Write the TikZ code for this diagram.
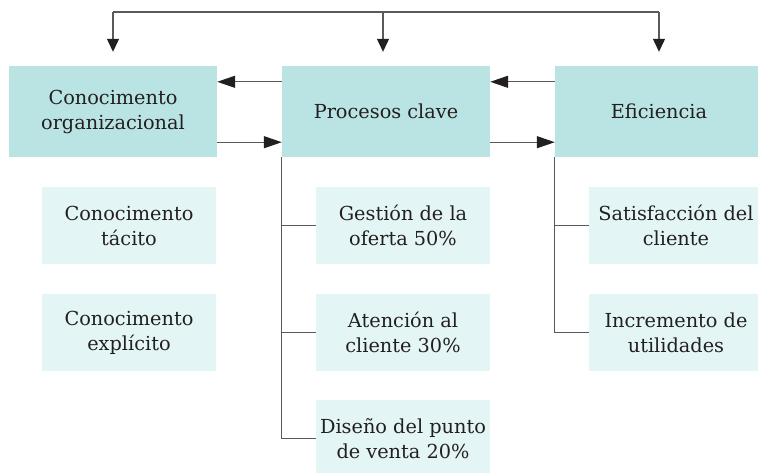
\documentclass[tikz,border=0pt]{standalone}
\usepackage{fontspec}
\setmainfont{DejaVu Serif}
\usetikzlibrary{arrows.meta}
\definecolor{boxdark}{HTML}{B9E4E3}
\definecolor{boxlight}{HTML}{E4F5F5}
\definecolor{txt}{HTML}{231F20}
\definecolor{ln}{HTML}{58595B}
\begin{document}
\begin{tikzpicture}[x=1pt,y=-1pt,
  main/.style={fill=boxdark,minimum width=208pt,minimum height=91pt,inner sep=0pt,align=center,text=txt,font=\fontsize{19.3}{25}\selectfont},
  sub/.style={fill=boxlight,minimum width=174pt,minimum height=77pt,inner sep=0pt,align=center,text=txt,font=\fontsize{19.3}{25}\selectfont},
  varr/.style={draw=ln,line width=1.2pt,-{Triangle[length=13pt,width=12pt,fill=txt,color=txt]}},
  harr/.style={draw=ln,line width=1.2pt,-{Triangle[length=18pt,width=12pt,fill=txt,color=txt]}},
  conn/.style={draw=ln,line width=1.2pt}]
\clip (0,0) rectangle (758,472);
\fill[white] (0,0) rectangle (758,472);
\node[main] (b1) at (113,111.5) {Conocimento\\organizacional};
\node[main] (b2) at (386,111.5) {Procesos clave};
\node[main] (b3) at (659,111.5) {Eficiencia};
\node[sub] (k1) at (129,225.5) {Conocimento\\tácito};
\node[sub] (k2) at (129,332.5) {Conocimento\\explícito};
\node[sub] (g1) at (403,225.5) {Gestión de la\\oferta 50\%};
\node[sub] (g2) at (403,332.5) {Atención al\\cliente 30\%};
\node[sub] (g3) at (403,438.5) {Diseño del punto\\de venta 20\%};
\node[sub] (s1) at (676,225.5) {Satisfacción del\\cliente};
\node[sub] (s2) at (676,332.5) {Incremento de\\utilidades};
\coordinate (t1) at (113,12);
\coordinate (t2) at (383,12);
\coordinate (t3) at (659,12);
\draw[conn] (t1) -- (t3);
\draw[varr,shorten >=14pt] (t1) -- (b1.north);
\draw[varr,shorten >=14pt] (t2) -- (t2 |- b2.north);
\draw[varr,shorten >=14pt] (t3) -- (b3.north);
\draw[harr] ([yshift=-16pt]b2.north west) -- ([yshift=-16pt]b1.north east);
\draw[harr] ([yshift=15pt]b1.south east) -- ([yshift=15pt]b2.south west);
\draw[harr] ([yshift=-16pt]b3.north west) -- ([yshift=-16pt]b2.north east);
\draw[harr] ([yshift=15pt]b2.south east) -- ([yshift=15pt]b3.south west);
\draw[conn] (b2.south west) |- (g3.west);
\draw[conn] (b2.south west |- g1.west) -- (g1.west);
\draw[conn] (b2.south west |- g2.west) -- (g2.west);
\draw[conn] (b3.south west) |- (s2.west);
\draw[conn] (b3.south west |- s1.west) -- (s1.west);
\end{tikzpicture}
\end{document}
